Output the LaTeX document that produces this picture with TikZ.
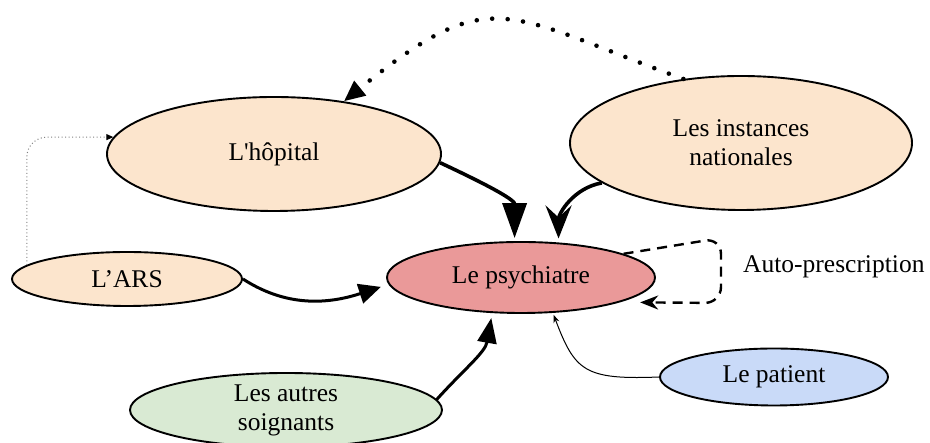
\documentclass[tikz,border=0pt]{standalone}
\usepackage{fontspec}
\setmainfont{Liberation Serif}
\usetikzlibrary{arrows.meta,shapes.geometric}

\definecolor{peach}{HTML}{FCE5CD}
\definecolor{rose}{HTML}{EA9999}
\definecolor{mint}{HTML}{D9EAD3}
\definecolor{sky}{HTML}{C9DAF8}

\tikzset{
  actor/.style={ellipse, draw=black, line width=1.9pt, inner sep=0pt,
    align=center, font=\fontsize{25.5}{29}\selectfont},
  heavy/.style={line width=3.6pt},
  medium/.style={line width=3pt},
}

\begin{document}
\begin{tikzpicture}[x=1pt,y=1pt]
\useasboundingbox (0,0) rectangle (930,443);

% actors
\node[actor, fill=peach, minimum width=334pt, minimum height=114pt] (hop) at (274,289) {L\textquotesingle hôpital};
\node[actor, fill=peach, minimum width=342pt, minimum height=134pt] (inst) at (741,300) {Les instances\\nationales};
\node[actor, fill=peach, minimum width=230pt, minimum height=54pt] (ars) at (127,164) {L’ARS};
\node[actor, fill=rose, minimum width=268pt, minimum height=71pt] (psy) at (521,165.5) {Le psychiatre};
\node[actor, fill=mint, minimum width=312pt, minimum height=74pt] (autres) at (286,33) {Les autres\\soignants};
\node[actor, fill=sky, minimum width=228pt, minimum height=57pt] (pat) at (774,66) {Le patient};
\node[anchor=west, inner sep=0pt, font=\fontsize{25.5}{29}\selectfont] (autolbl) at (743,176) {Auto-prescription};

% national bodies back to the hospital
\draw[line width=4.6pt, line cap=round, dash pattern=on 0pt off 15.5pt,
      -{Triangle[length=21pt,width=18pt]}]
  (inst.132) to[out=160, in=39, looseness=1.44] (hop.37);

% influences on the psychiatrist
\draw[heavy, -{Triangle[length=35pt,width=24pt]}, shorten >=3pt]
  (hop.-3) to[out=-25, in=90] (psy.100);
\draw[heavy, -{Stealth[length=33pt,width=26pt,inset=12pt]}, shorten >=4pt]
  (inst.196) to[out=190, in=90] (psy.43);
\draw[medium, -{Triangle[length=22pt,width=20pt]}, shorten >=8pt]
  (ars.east) to[out=-33, in=198] (psy.183);
\draw[medium, -{Triangle[length=25pt,width=19pt]}, shorten >=5pt]
  (autres.4) to[out=48, in=260] (psy.231);
\draw[line width=1pt, -{Stealth[length=8pt,width=6pt]}, shorten >=2pt]
  (pat.west) .. controls +(-75,-3) and +(22,-58) .. (psy.-48);

% self-prescription loop
\coordinate (loopA) at (721,205);
\coordinate (loopB) at (721,140);
\draw[line width=2.4pt, dash pattern=on 10pt off 7pt, rounded corners=16pt,
      -{Stealth[length=18pt,width=14pt]}, shorten >=20pt]
  (psy.13) -- (loopA) -- (loopB) -- (psy.-14);

% regional agency to the hospital
\draw[gray, line width=1pt, dash pattern=on 1pt off 2.5pt, rounded corners=20pt,
      -{Triangle[length=7pt,width=6pt,color=black]}]
  (ars.172) |- (hop.174);
\end{tikzpicture}
\end{document}
